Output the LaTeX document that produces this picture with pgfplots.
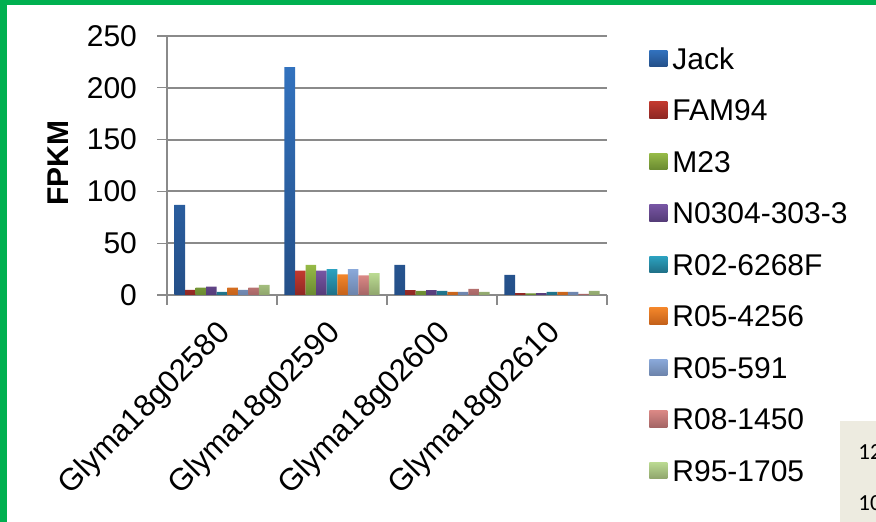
\documentclass[border=0pt]{standalone}
\usepackage{fontspec}
\setmainfont{Liberation Sans}
\newfontfamily\calibri{Carlito}
\usepackage{pgfplots}
\pgfplotsset{compat=1.18}
\usepackage{pgfplotstable}

% frame and panel colours
\definecolor{framegreen}{HTML}{00B050}
\definecolor{panelbeige}{HTML}{EDEBE0}
\definecolor{axisgray}{HTML}{8A8A8A}
% bar gradients (top / bottom)
\definecolor{c1t}{HTML}{3272BE}\definecolor{c1b}{HTML}{244F88}
\definecolor{c2t}{HTML}{C2392F}\definecolor{c2b}{HTML}{8E2824}
\definecolor{c3t}{HTML}{96BA47}\definecolor{c3b}{HTML}{6A8A31}
\definecolor{c4t}{HTML}{7755A3}\definecolor{c4b}{HTML}{553C78}
\definecolor{c5t}{HTML}{2CA2C0}\definecolor{c5b}{HTML}{1F6F86}
\definecolor{c6t}{HTML}{F3862A}\definecolor{c6b}{HTML}{C4611A}
\definecolor{c7t}{HTML}{8AA9DA}\definecolor{c7b}{HTML}{6C83AA}
\definecolor{c8t}{HTML}{DA8885}\definecolor{c8b}{HTML}{A46565}
\definecolor{c9t}{HTML}{BBDA92}\definecolor{c9b}{HTML}{8FA56C}

% FPKM per gene (rows) and line (columns)
\pgfplotstableread{
g Jack FAM94 M23 N0304 R02 R05a R05b R08 R95
0 87   5    7   8   3   7   5   7   9.7
1 220  23.5 29  23.5 25 20  25  19  21
2 29   4.8  3.9 4.8 3.9 2.9 2.9 5.8 2.9
3 19.3 1.9  1.6 1.9 2.9 2.9 2.9 1   3.9
}\fpkm

\newcommand\bigfont{\fontsize{15}{18}\selectfont}

\begin{document}
\begin{tikzpicture}
\useasboundingbox (0,0) rectangle (438pt,261pt);
\fill[framegreen] (0,258.5pt) rectangle (438pt,261pt);
\fill[framegreen] (0,0) rectangle (3.5pt,261pt);
\fill[panelbeige] (420pt,0) rectangle (438pt,50.5pt);
\node[anchor=west, inner sep=0pt, font=\calibri\fontsize{11.5}{13}\selectfont] at (429pt,35pt) {12};
\node[anchor=west, inner sep=0pt, font=\calibri\fontsize{11.5}{13}\selectfont] at (429pt,9.5pt) {10};
\begin{axis}[
  at={(83.5pt,113.5pt)}, anchor=south west,
  scale only axis, width=220pt, height=129.5pt,
  xmin=-0.5, xmax=3.5, ymin=0, ymax=250,
  ytick={0,50,...,250},
  xtick={-0.5,0.5,...,3.5}, xticklabels={},
  extra x ticks={0,1,2,3},
  extra x tick labels={Glyma18g02580,Glyma18g02590,Glyma18g02600,Glyma18g02610},
  extra x tick style={tick style={draw=none},
    xticklabel style={xshift=2pt, yshift=-11.8pt, rotate=45, anchor=east, inner sep=0pt,
      font=\fontsize{15.5}{18}\selectfont}},
  axis lines*=left,
  axis line style={draw=axisgray, line width=0.8pt},
  tick align=outside, major tick length=5pt,
  tick style={draw=axisgray, line width=0.6pt},
  ymajorgrids, major grid style={draw=axisgray, line width=1pt},
  ticklabel style={font=\bigfont},
  yticklabel style={xshift=-6.5pt},
  /pgf/number format/assume math mode=true,
  ylabel={\textbf{FPKM}},
  ylabel style={font=\fontsize{15}{18}\selectfont, at={(axis description cs:-0.2477,0.51)}, anchor=center},
  ybar=0pt, bar width=5.28pt,
  legend style={at={(axis description cs:1.0955,0.9564)}, anchor=north west,
    draw=none, fill=none, inner sep=0pt, row sep=15.05pt, column sep=2.5pt,
    font=\bigfont,
    nodes={inner sep=0pt, text height=10.7pt, text depth=0pt}},
  legend cell align=left,
  legend image code/.code={\path[#1] (0pt,-4.1pt) rectangle (9pt,4.1pt);},
]
\addplot[draw=none, top color=c1t, bottom color=c1b] table[x=g,y=Jack]{\fpkm};
\addplot[draw=none, top color=c2t, bottom color=c2b] table[x=g,y=FAM94]{\fpkm};
\addplot[draw=none, top color=c3t, bottom color=c3b] table[x=g,y=M23]{\fpkm};
\addplot[draw=none, top color=c4t, bottom color=c4b] table[x=g,y=N0304]{\fpkm};
\addplot[draw=none, top color=c5t, bottom color=c5b] table[x=g,y=R02]{\fpkm};
\addplot[draw=none, top color=c6t, bottom color=c6b] table[x=g,y=R05a]{\fpkm};
\addplot[draw=none, top color=c7t, bottom color=c7b] table[x=g,y=R05b]{\fpkm};
\addplot[draw=none, top color=c8t, bottom color=c8b] table[x=g,y=R08]{\fpkm};
\addplot[draw=none, top color=c9t, bottom color=c9b] table[x=g,y=R95]{\fpkm};
\legend{Jack,FAM94,M23,N0304-303-3,R02-6268F,R05-4256,R05-591,R08-1450,R95-1705}
\end{axis}
\end{tikzpicture}
\end{document}
